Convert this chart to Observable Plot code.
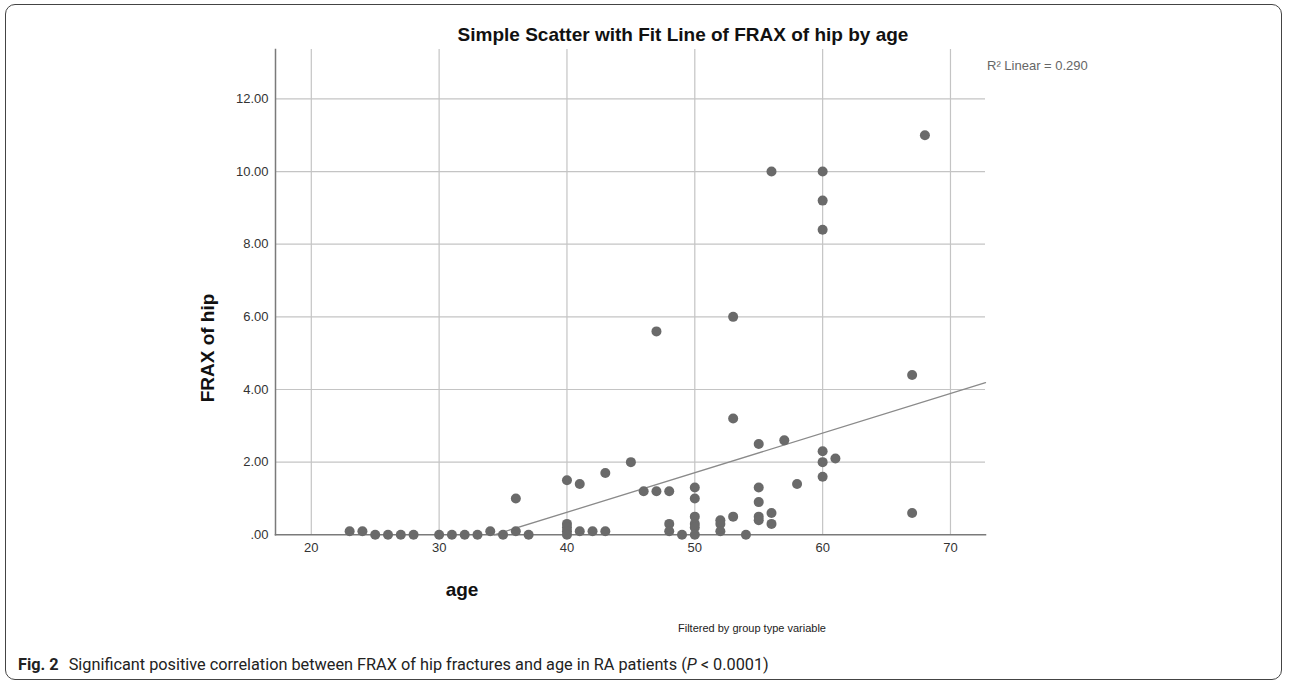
<!DOCTYPE html>
<html>
<head>
<meta charset="utf-8">
<script src="https://cdn.jsdelivr.net/npm/d3@7"></script>
<script src="https://cdn.jsdelivr.net/npm/@observablehq/plot@0.6"></script>
<style>
  html, body { margin: 0; padding: 0; background: #fff; }
  #page { position: relative; width: 1290px; height: 686px; overflow: hidden; font-family: "Liberation Sans", Arial, sans-serif; }
  #box { position: absolute; left: 5px; top: 4px; width: 1277px; height: 676px; border: 1.5px solid #444; border-radius: 10px; box-sizing: border-box; }
  #chart { position: absolute; left: 0; top: 0; }
  .lbl { position: absolute; white-space: nowrap; }
  #title { left: 683px; top: 35px; transform: translate(-50%, -50%); font-size: 19px; font-weight: bold; color: #111; }
  #r2 { left: 987px; top: 65px; transform: translateY(-50%); font-size: 13px; color: #666; }
  #ylab { left: 208px; top: 348px; transform: translate(-50%, -50%) rotate(-90deg); font-size: 19px; font-weight: bold; color: #111; }
  #xlab { left: 462px; top: 590px; transform: translate(-50%, -50%); font-size: 19px; font-weight: bold; color: #111; }
  #filt { left: 752px; top: 628px; transform: translate(-50%, -50%); font-size: 11px; color: #222; }
  #cap { left: 18px; top: 664px; transform: translateY(-50%); font-family: Roboto, "Noto Sans", sans-serif; font-size: 16.3px; color: #222; }
  #cap b { font-weight: bold; margin-right: 6px; }
</style>
</head>
<body>
<div id="page">
  <div id="box"></div>
  <div id="chart"></div>
  <div class="lbl" id="title">Simple Scatter with Fit Line of FRAX of hip by age</div>
  <div class="lbl" id="r2">R² Linear = 0.290</div>
  <div class="lbl" id="ylab">FRAX of hip</div>
  <div class="lbl" id="xlab">age</div>
  <div class="lbl" id="filt">Filtered by group type variable</div>
  <div class="lbl" id="cap"><b>Fig. 2</b> Significant positive correlation between FRAX of hip fractures and age in RA patients (<i>P</i> &lt; 0.0001)</div>
</div>
<script>
// Data
const age  = [23, 24, 25, 26, 27, 28, 30, 31, 32, 33, 34, 35, 36, 36, 37,
              40, 40, 40, 40, 40, 41, 41, 42, 43, 43, 45, 46, 47, 47,
              48, 48, 48, 49, 50, 50, 50, 50, 50, 50,
              52, 52, 52, 53, 53, 53, 54, 55, 55, 55, 55, 55,
              56, 56, 56, 57, 58, 60, 60, 60, 60, 60, 60, 61, 67, 67, 68];
const frax = [0.1, 0.1, 0, 0, 0, 0, 0, 0, 0, 0, 0.1, 0, 0.1, 1.0, 0,
              1.5, 0.3, 0.2, 0.1, 0, 1.4, 0.1, 0.1, 1.7, 0.1, 2.0, 1.2, 1.2, 5.6,
              1.2, 0.3, 0.1, 0, 1.3, 1.0, 0.5, 0.3, 0.2, 0,
              0.4, 0.3, 0.1, 3.2, 0.5, 6.0, 0, 2.5, 1.3, 0.9, 0.5, 0.4,
              10.0, 0.6, 0.3, 2.6, 1.4, 10.0, 9.2, 8.4, 2.3, 2.0, 1.6, 2.1, 4.4, 0.6, 11.0];
const xTicks = [20, 30, 40, 50, 60, 70];
const yTicks = [0, 2, 4, 6, 8, 10, 12];
const xDomain = [17.2, 72.74];
const yDomain = [0, 13.36];
// Linear fit (R² = 0.290)
const fitIntercept = -3.74;
const fitSlope = 0.109;

const points = age.map((a, i) => ({age: a, frax: frax[i]}));
const fitStart = -fitIntercept / fitSlope;
const fitLine = [fitStart, xDomain[1]].map(a => ({age: a, frax: fitIntercept + fitSlope * a}));

const chart = Plot.plot({
  width: 1290,
  height: 610,
  marginLeft: 275,
  marginRight: 305,
  marginTop: 49,
  marginBottom: 75.7,
  style: {fontFamily: "Liberation Sans, Arial, sans-serif", fontSize: "13px", color: "#333", background: "transparent"},
  x: {domain: xDomain},
  y: {domain: yDomain},
  marks: [
    Plot.gridX(xTicks, {stroke: "#c4c4c4", strokeOpacity: 1, strokeWidth: 1.2}),
    Plot.gridY(yTicks.filter(d => d > 0), {stroke: "#c4c4c4", strokeOpacity: 1, strokeWidth: 1.2}),
    Plot.frame({anchor: "left", stroke: "#7a7a7a", strokeWidth: 1.5}),
    Plot.frame({anchor: "bottom", stroke: "#7a7a7a", strokeWidth: 1.5}),
    Plot.line(fitLine, {x: "age", y: "frax", stroke: "#8a8a8a", strokeWidth: 1.3}),
    Plot.dot(points, {x: "age", y: "frax", r: 5, fill: "#6a6a6a", stroke: "none"}),
    Plot.axisX(xTicks, {tickSize: 0, tickPadding: 8, label: null, fill: "#333", fontSize: 13}),
    Plot.axisY(yTicks, {tickSize: 0, tickPadding: 7, label: null, fill: "#333", fontSize: 13,
      tickFormat: d => d === 0 ? ".00" : d.toFixed(2)})
  ]
});
document.getElementById("chart").appendChild(chart);
</script>
</body>
</html>
